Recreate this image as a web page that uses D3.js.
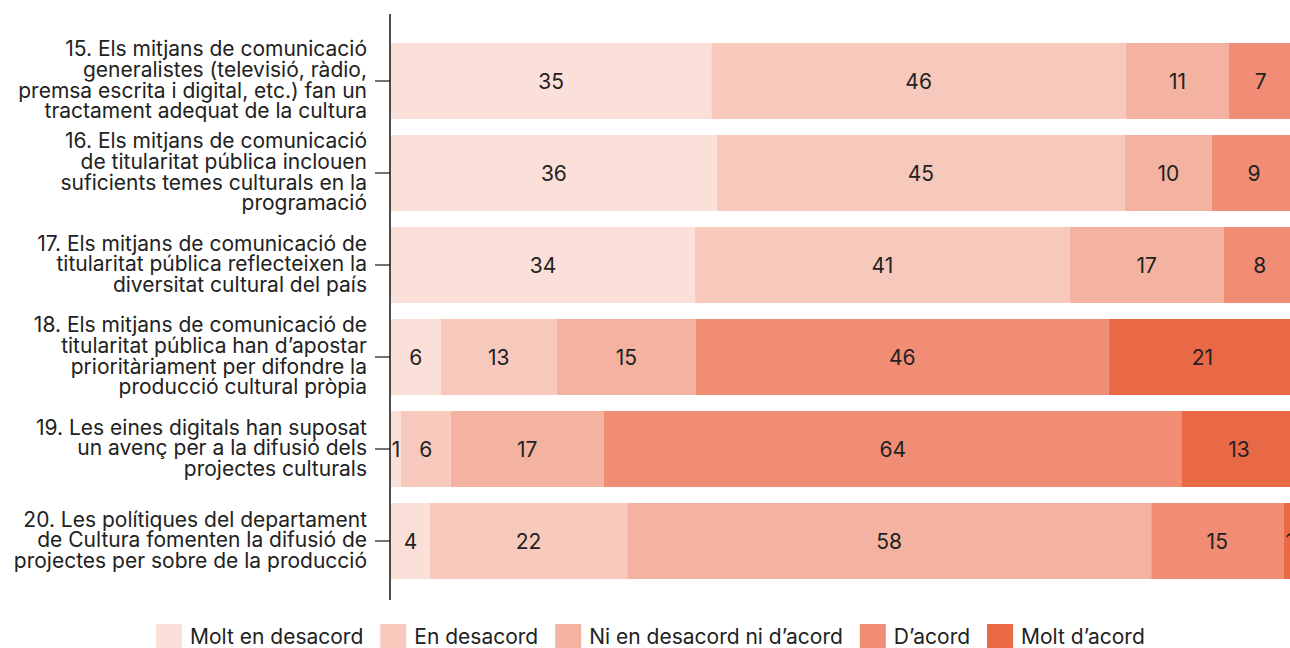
<!DOCTYPE html>
<html>
<head>
<meta charset="utf-8">
<script src="https://cdn.jsdelivr.net/npm/d3@7"></script>
<style>
    body { margin: 0; background: #fff; }
    text { font-family: Inter, Roboto, sans-serif; }
</style>
</head>
<body>
<div id="chart"></div>
<script>
// question labels, already broken into lines like in the original
const questions = [
    ['15. Els mitjans de comunicació', 'generalistes (televisió, ràdio,', 'premsa escrita i digital, etc.) fan un', 'tractament adequat de la cultura'],
    ['16. Els mitjans de comunicació', 'de titularitat pública inclouen', 'suficients temes culturals en la', 'programació'],
    ['17. Els mitjans de comunicació de', 'titularitat pública reflecteixen la', 'diversitat cultural del país'],
    ['18. Els mitjans de comunicació de', 'titularitat pública han d’apostar', 'prioritàriament per difondre la', 'producció cultural pròpia'],
    ['19. Les eines digitals han suposat', 'un avenç per a la difusió dels', 'projectes culturals'],
    ['20. Les polítiques del departament', 'de Cultura fomenten la difusió de', 'projectes per sobre de la producció']
]

const categories = ['Molt en desacord', 'En desacord', 'Ni en desacord ni d’acord', 'D’acord', 'Molt d’acord']
const colors = ['#fbe0d9', '#f7c9bd', '#f4b3a0', '#f08d74', '#e96947']

// percentages (labels are the rounded values)
const moltDesacord = [35.4, 36.0, 33.6, 5.5, 1.1, 4.3]
const enDesacord = [45.8, 45.1, 41.4, 12.8, 5.5, 21.8]
const niNi = [11.4, 9.6, 17.0, 15.4, 16.9, 57.9]
const dAcord = [7.0, 9.3, 8.0, 45.6, 63.9, 14.6]
const moltAcord = [0, 0, 0, 20.7, 12.6, 1.4]

const cfg = {
    w: 1290,
    h: 648,
    barLeft: 391,
    barRight: 1296,
    fontSize: 21,
    lineHeight: 20.7,
    textColor: '#222'
}

const series = [moltDesacord, enDesacord, niNi, dAcord, moltAcord]
const table = questions.map((q, i) => {
    const row = { id: i }
    categories.forEach((c, j) => { row[c] = series[j][i] })
    return row
})

const svg = d3.select('#chart')
    .append('svg')
    .attr('width', cfg.w)
    .attr('height', cfg.h)

const x = d3.scaleLinear()
    .domain([0, 100])
    .range([cfg.barLeft, cfg.barRight])

const y = d3.scaleBand()
    .domain(table.map(d => d.id))
    .range([35, 587])
    .paddingInner(16 / 92)
    .paddingOuter(8 / 92)

const color = d3.scaleOrdinal(categories, colors)

const stacked = d3.stack().keys(categories)(table)

// bars
const layers = svg.selectAll('.layer')
    .data(stacked).enter()
    .append('g')
    .attr('class', 'layer')
    .attr('fill', d => color(d.key))

layers.selectAll('rect')
    .data(d => d).enter()
    .append('rect')
    .attr('x', d => x(d[0]))
    .attr('y', d => y(d.data.id))
    .attr('width', d => x(d[1]) - x(d[0]))
    .attr('height', y.bandwidth())

// value labels
layers.selectAll('.value')
    .data(d => d.filter(e => e[1] - e[0] > 0)).enter()
    .append('text')
    .attr('class', 'value')
    .attr('x', d => (x(d[0]) + x(d[1])) / 2)
    .attr('y', d => y(d.data.id) + y.bandwidth() / 2)
    .attr('dy', '0.36em')
    .attr('text-anchor', 'middle')
    .attr('fill', cfg.textColor)
    .style('font-size', `${cfg.fontSize}px`)
    .text(d => Math.round(d[1] - d[0]))

// y axis
const yAxis = svg.append('g')
    .attr('transform', `translate(${cfg.barLeft - 1}, 0)`)
    .call(d3.axisLeft(y).tickSize(15).tickPadding(8).tickSizeOuter(0).tickFormat(''))

yAxis.select('.domain').remove()
yAxis.selectAll('.tick line')
    .attr('stroke', '#444')
    .attr('stroke-width', 1.5)

yAxis.selectAll('.tick text')
    .attr('fill', cfg.textColor)
    .attr('text-anchor', 'end')
    .style('font-size', `${cfg.fontSize}px`)
    .each(function (id) {
        const lines = questions[id]
        const t = d3.select(this).attr('dy', null)
        lines.forEach((l, i) => {
            t.append('tspan')
                .attr('x', -23)
                .attr('y', (i - (lines.length - 1) / 2) * cfg.lineHeight)
                .attr('dy', '0.3em')
                .text(l)
        })
    })

svg.append('line')
    .attr('x1', cfg.barLeft - 1)
    .attr('x2', cfg.barLeft - 1)
    .attr('y1', 14)
    .attr('y2', 600)
    .attr('stroke', '#111')
    .attr('stroke-width', 1.5)

// legend
const legend = svg.append('g').attr('class', 'legend')
let lx = 156
categories.forEach(c => {
    const item = legend.append('g').attr('transform', `translate(${lx}, 624)`)
    item.append('rect')
        .attr('width', 26)
        .attr('height', 26)
        .attr('fill', color(c))
    const label = item.append('text')
        .attr('x', 34)
        .attr('y', 20)
        .attr('fill', cfg.textColor)
        .style('font-size', `${cfg.fontSize}px`)
        .text(c)
    lx += 34 + label.node().getComputedTextLength() + 17
})
</script>
</body>
</html>
